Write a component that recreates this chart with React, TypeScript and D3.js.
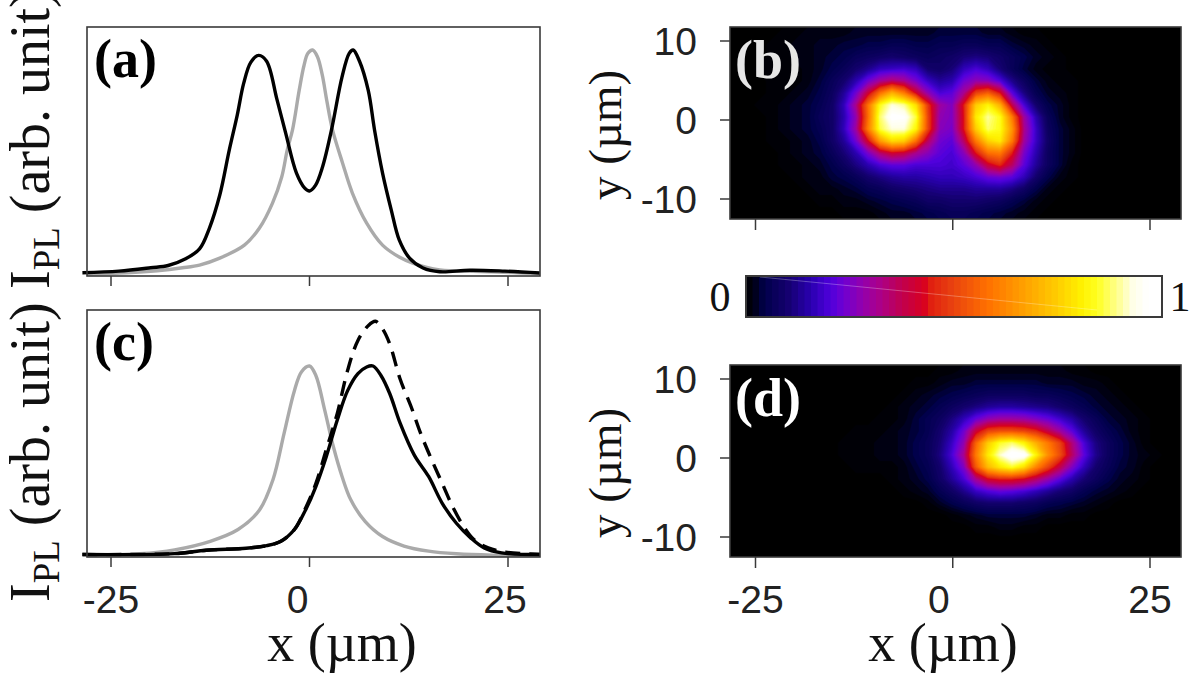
import React from "react";
import * as d3 from "d3";

const W = 1198, H = 676;

// curves: [x µm, normalised intensity]
const aBlack: [number, number][] = [[-28.6,.008],[-24,.015],[-20,.03],[-17.8,.04],[-15.6,.07],[-13.85,.114],[-12.6,.207],[-11.3,.354],[-10.1,.555],[-9.1,.71],[-8.3,.85],[-7.4,.945],[-6.4,.976],[-5.4,.95],[-4.1,.78],[-3,.63],[-1.64,.452],[-.6,.385],[0,.372],[.75,.397],[1.64,.479],[2.77,.644],[4.1,.88],[5,.985],[5.5,1],[6.3,.95],[7.4,.82],[8.19,.644],[9.2,.452],[10.3,.287],[11.3,.154],[12.6,.073],[14.3,.029],[16.4,.012],[20.2,.019],[24.6,.015],[29,.007]];
const aGray: [number, number][] = [[-28,.002],[-23,.008],[-19.2,.017],[-16,.03],[-13.85,.042],[-11.3,.073],[-8.2,.131],[-6.3,.207],[-4.66,.318],[-3.5,.434],[-2.8,.555],[-2.14,.644],[-1.3,.82],[-.7,.93],[-.2,.985],[.4,1],[1,.97],[1.6,.89],[2.2,.77],[2.9,.644],[4.16,.497],[5.4,.363],[7.2,.229],[9.2,.131],[11.3,.078],[13,.051],[16.4,.02],[18.5,.017],[22.9,.012],[29,.003]];
const cGray: [number, number][] = [[-28,.001],[-21.4,.009],[-17,.03],[-12.5,.075],[-9,.137],[-6.3,.24],[-4.6,.4],[-3.2,.645],[-1.9,.87],[-1,.97],[0,1],[.8,.95],[1.9,.77],[3,.575],[4.1,.417],[5.2,.294],[7,.18],[9.2,.1],[11.9,.05],[15,.023],[18.5,.009],[23,.002],[29,.001]];
const cBlack: [number, number][] = [[-28.6,.005],[-17,.01],[-13,.028],[-8,.038],[-5.4,.052],[-3.6,.075],[-1.9,.137],[-.5,.24],[.8,.364],[2.1,.52],[3.5,.715],[4.8,.87],[6.1,.96],[7.2,.995],[8,1],[9,.95],[10.1,.855],[11.4,.7],[13.2,.53],[15,.417],[16.7,.277],[18.5,.17],[20.3,.093],[22,.04],[24.2,.014],[29,.005]];
const cDash: [number, number][] = [[-28.6,.005],[-17,.01],[-13,.028],[-8,.038],[-5.4,.052],[-3.6,.075],[-1.9,.137],[-.5,.25],[.8,.38],[2.1,.557],[3.5,.75],[4.8,.977],[6.1,1.135],[7.4,1.213],[8.3,1.236],[9.2,1.196],[10.1,1.117],[11.4,.933],[12.8,.785],[14,.644],[15.4,.504],[16.7,.382],[18,.26],[19.4,.154],[20.7,.084],[22.5,.04],[24.7,.018],[29,.005]];

const xTicks = [-25, 0, 25];
const xTickLabels = ["-25", "0", "25"];
const yTicks = [10, 0, -10];
const yTickLabels = ["10", "0", "-10"];

// colormap stops
const cmStops = [0, .02, .043, .1, .156, .204, .236, .276, .315, .373, .428, .445, .493, .58, .66, .74, .805, .844, .9, .93, .965, 1];
const cmColors = ["#000000", "#000018", "#00004a", "#14006e", "#2a00b0", "#5000dc", "#7000d0", "#9000b0", "#a80090", "#c00050", "#d80020", "#e02010", "#e84010", "#ff7000", "#ff9c00", "#ffc800", "#fff000", "#ffff20", "#ffffa0", "#ffffe8", "#ffffff", "#ffffff"];

// intensity grids (percent); 12-unit cells, missing right-hand columns are 0
const heatB: number[][] = [
[0,0,0,0,1,1,2,2,2,2,3,3,3,3,3,3,3,4,4,4,4,3,3,2,1,1,0,0,0,0],
[0,0,0,1,1,2,2,3,3,4,4,5,5,6,6,5,5,6,6,7,7,6,6,4,3,2,1,0,0,0],
[0,0,0,1,1,2,2,3,4,5,7,8,9,10,9,8,7,8,9,11,12,11,9,7,5,3,2,1,0,0],
[0,0,1,1,1,1,2,3,5,7,10,13,17,18,19,17,10,9,11,17,20,17,11,7,4,2,1,1,0,0],
[0,0,0,1,1,1,2,4,7,10,16,24,31,35,32,25,18,14,16,24,28,27,21,13,8,4,2,1,1,0],
[0,0,0,1,1,2,3,5,8,14,24,40,58,70,60,42,28,20,22,32,50,55,44,22,12,6,3,2,1,0],
[0,0,1,1,2,3,4,6,9,17,32,58,84,93,90,78,48,30,26,45,75,82,70,38,20,10,5,3,1,0],
[0,0,0,1,2,3,4,7,9,16,28,57,88,98,97,86,50,28,26,44,80,90,84,60,30,16,7,3,1,0],
[0,0,0,1,2,3,4,6,9,17,30,60,86,93,93,82,50,27,25,44,75,88,84,65,32,18,8,4,2,0],
[0,0,0,1,1,2,3,5,9,14,24,42,66,77,75,58,36,24,22,36,60,76,80,60,30,18,9,4,2,0],
[0,0,0,0,1,2,3,4,7,11,16,25,35,41,39,32,27,22,20,27,44,58,60,45,25,16,8,4,2,0],
[0,0,0,0,1,1,2,3,5,8,12,16,20,22,22,20,20,20,19,22,28,40,46,36,22,14,8,4,1,0],
[0,0,0,0,0,1,2,2,4,5,7,10,12,14,15,15,16,17,17,18,20,23,24,22,17,10,5,2,1,0],
[0,0,0,0,0,0,1,2,2,3,4,6,7,9,10,11,12,13,13,13,14,14,14,12,9,5,2,1,0,0],
[0,0,0,0,0,0,0,1,1,2,2,3,4,5,6,7,9,9,10,10,10,9,8,6,4,2,1,0,0,0],
[0,0,0,0,0,0,0,0,0,1,1,1,2,3,3,4,5,6,7,7,6,5,4,3,2,1,0,0,0,0],
];
const heatD: number[][] = [
[0,0,0,0,0,0,0,0,0,0,0,0,0,0,0,0,0,1,1,2,2,2,2,2,2,2,2,2,1,1,0,0,0,0,0,0],
[0,0,0,0,0,0,0,0,0,0,0,0,0,0,0,1,1,2,3,3,4,4,4,4,4,4,3,3,3,2,2,1,0,0,0,0],
[0,0,0,0,0,0,0,0,0,0,0,0,0,0,1,2,3,4,5,6,7,8,8,8,8,7,7,6,5,4,3,2,1,0,0,0],
[0,0,0,0,0,0,0,0,0,0,0,0,0,1,2,3,4,6,8,10,12,14,15,15,14,13,12,10,8,6,4,3,2,1,0,0],
[0,0,0,0,0,0,0,0,0,0,0,0,1,1,2,4,6,8,12,17,23,28,30,30,29,26,23,19,15,10,7,4,3,2,1,0],
[0,0,0,0,0,0,0,0,0,0,1,1,1,2,3,4,6,10,15,24,40,50,52,52,50,46,38,30,22,14,9,6,4,2,1,0],
[0,0,0,0,0,0,0,0,0,1,1,1,2,2,3,5,7,11,18,28,56,75,85,88,82,70,60,50,34,20,12,8,5,3,1,0],
[0,0,0,0,0,0,0,0,0,1,1,1,2,2,3,5,7,12,20,32,60,80,92,100,98,82,64,52,36,22,13,8,5,3,2,1],
[0,0,0,0,0,0,0,0,0,0,1,1,1,1,2,4,6,10,17,26,54,72,80,85,78,62,50,38,26,17,10,7,4,3,1,0],
[0,0,0,0,0,0,0,0,0,0,0,0,0,1,2,3,5,9,14,20,32,42,45,45,42,36,29,22,16,11,8,5,3,2,1,0],
[0,0,0,0,0,0,0,0,0,0,0,0,0,0,1,2,3,6,9,13,18,21,23,22,20,17,14,11,9,6,4,3,2,1,0,0],
[0,0,0,0,0,0,0,0,0,0,0,0,0,0,0,0,1,3,5,7,9,10,10,10,9,8,6,5,4,3,2,1,0,0,0,0],
[0,0,0,0,0,0,0,0,0,0,0,0,0,0,0,0,0,0,1,2,3,4,4,4,4,3,2,2,1,1,0,0,0,0,0,0],
[0,0,0,0,0,0,0,0,0,0,0,0,0,0,0,0,0,0,0,0,1,1,2,2,1,1,0,0,0,0,0,0,0,0,0,0],
[0,0,0,0,0,0,0,0,0,0,0,0,0,0,0,0,0,0,0,0,0,0,0,0,0,0,0,0,0,0,0,0,0,0,0,0],
[0,0,0,0,0,0,0,0,0,0,0,0,0,0,0,0,0,0,0,0,0,0,0,0,0,0,0,0,0,0,0,0,0,0,0,0],
];

const sans = "'Liberation Sans', Arial, sans-serif";
const serif = "'Liberation Serif', 'Times New Roman', serif";
const inkCol = "#222";
const frameCol = "#3a3a3a";

const cmap = d3.scaleLinear<string>().domain(cmStops).range(cmColors).clamp(true);
const xPlot = d3.scaleLinear().domain([-25, 25]).range([111, 508]);
const xHeat = d3.scaleLinear().domain([-25, 25]).range([755.5, 1150]);

function Curve({ data, y, color, dash, w = 3.4 }: { data: [number, number][]; y: d3.ScaleLinear<number, number>; color: string; dash?: string; w?: number }) {
  const gen = d3.line<[number, number]>().x(d => xPlot(d[0])).y(d => y(d[1])).curve(d3.curveCatmullRom.alpha(0.5));
  return <path d={gen(data) || ""} fill="none" stroke={color} strokeWidth={w} strokeDasharray={dash} strokeLinejoin="round" />;
}

function LinePanel({ top, bottom, label, children, showLabels, yLabelY }: { top: number; bottom: number; label: string; children: React.ReactNode; showLabels: boolean; yLabelY: number }) {
  const left = 87, right = 540;
  const id = "clip" + label;
  return (
    <g>
      <clipPath id={id}><rect x={left - 1} y={top} width={right - left + 2} height={bottom - top + 2} /></clipPath>
      <g clipPath={`url(#${id})`}>{children}</g>
      <rect x={left} y={top} width={right - left} height={bottom - top} fill="none" stroke={frameCol} strokeWidth={1.6} />
      {xTicks.map((t, i) => (
        <g key={t}>
          <line x1={xPlot(t)} x2={xPlot(t)} y1={bottom} y2={bottom + 10} stroke={frameCol} strokeWidth={1.5} />
          {showLabels && <text x={xPlot(t) + (t === 0 ? -12 : t === 25 ? -3 : 0)} y={613} textAnchor="middle" fontFamily={sans} fontSize={39} fill={inkCol}>{xTickLabels[i]}</text>}
        </g>
      ))}
      <text x={94} y={top + 50} fontFamily={serif} fontWeight="bold" fontSize={54} fill="#000">{label}</text>
      <text transform={`translate(49,${yLabelY}) rotate(-90)`} fontFamily={serif} fontSize={56} fill="#111">
        I<tspan fontSize={37} dy={10}>PL</tspan><tspan dy={-10}> (arb. unit)</tspan>
      </text>
    </g>
  );
}

function HeatPanel({ top, matrix, label, labelColor, showLabels }: { top: number; matrix: number[][]; label: string; labelColor: string; showLabels: boolean }) {
  const left = 730, right = 1181, bottom = top + 192, cell = 12;
  const cols = 38, rows = matrix.length;
  const flat: number[] = [];
  matrix.forEach(r => { for (let i = 0; i < cols; i++) flat.push(r[i] ?? 0); });
  const thresholds = d3.range(0.5, 100, 1);
  const bands = d3.contours().size([cols, rows]).thresholds(thresholds)(flat);
  const gx = d3.scaleLinear().domain([0, cols]).range([left, left + cols * cell]);
  const gy = d3.scaleLinear().domain([0, rows]).range([top, top + rows * cell]);
  const proj = d3.geoTransform({ point(x, y) { (this as any).stream.point(gx(x), gy(y)); } });
  const path = d3.geoPath(proj);
  const yS = d3.scaleLinear().domain([0, 10]).range([top + 93, top + 14]);
  const id = "hclip" + top;
  return (
    <g>
      <clipPath id={id}><rect x={left} y={top} width={right - left} height={bottom - top} /></clipPath>
      <rect x={left} y={top} width={right - left} height={bottom - top} fill="#000" />
      <g clipPath={`url(#${id})`}>
        {bands.map(b => <path key={b.value} d={path(b as any) || ""} fill={cmap(b.value / 100)} stroke={cmap(b.value / 100)} strokeWidth={0.4} />)}
      </g>
      <rect x={left} y={top} width={right - left} height={bottom - top} fill="none" stroke={frameCol} strokeWidth={1.6} />
      {xTicks.map((t, i) => (
        <g key={t}>
          <line x1={xHeat(t)} x2={xHeat(t)} y1={bottom} y2={bottom + 11} stroke={frameCol} strokeWidth={1.5} />
          {showLabels && <text x={xHeat(t) + (t === 0 ? -14 : 0)} y={613} textAnchor="middle" fontFamily={sans} fontSize={39} fill={inkCol}>{xTickLabels[i]}</text>}
        </g>
      ))}
      {yTicks.map((t, i) => (
        <g key={t}>
          <line x1={left - 10} x2={left} y1={yS(t)} y2={yS(t)} stroke={frameCol} strokeWidth={1.5} />
          <text x={697} y={yS(t) + 14} textAnchor="end" fontFamily={sans} fontSize={39} fill={inkCol}>{yTickLabels[i]}</text>
        </g>
      ))}
      <text x={735} y={top + 51} fontFamily={serif} fontWeight="bold" fontSize={54} fill={labelColor}>{label}</text>
      <text transform={`translate(621,${top + 173}) rotate(-90)`} fontFamily={serif} fontSize={47} fill="#111">y (µm)</text>
    </g>
  );
}

function ColorBar() {
  const left = 746, right = 1162, top = 276, bottom = 317;
  const steps = d3.range(0, 64);
  const s = d3.scaleLinear().domain([0, 64]).range([left, right]);
  return (
    <g>
      {steps.map(i => <rect key={i} x={s(i)} y={top} width={s(i + 1) - s(i) + 0.5} height={bottom - top} fill={cmap((i + 0.5) / 64)} />)}
      <line x1={760} y1={277} x2={1097} y2={310} stroke="#fff" strokeOpacity={0.28} strokeWidth={1} />
      <rect x={left} y={top} width={right - left} height={bottom - top} fill="none" stroke={frameCol} strokeWidth={2} />
      <text x={720} y={311} textAnchor="middle" fontFamily={serif} fontSize={42} fill="#111">0</text>
      <text x={1180} y={311} textAnchor="middle" fontFamily={serif} fontSize={42} fill="#111">1</text>
    </g>
  );
}

export default function App() {
  const yA = d3.scaleLinear().domain([0, 1]).range([274.5, 50]);
  const yC = d3.scaleLinear().domain([0, 1]).range([555.5, 366]);
  return (
    <svg width={W} height={H} viewBox={`0 0 ${W} ${H}`} style={{ position: "absolute", left: 0, top: 0, background: "#fff" }}>
      <LinePanel top={27} bottom={276} label="(a)" showLabels={false} yLabelY={289}>
        <Curve data={aGray} y={yA} color="#aaaaaa" />
        <Curve data={aBlack} y={yA} color="#000" />
      </LinePanel>
      <LinePanel top={310} bottom={557} label="(c)" showLabels={true} yLabelY={602}>
        <Curve data={cGray} y={yC} color="#aaaaaa" />
        <Curve data={cDash} y={yC} color="#000" dash="15 9" />
        <Curve data={cBlack} y={yC} color="#000" />
      </LinePanel>
      <HeatPanel top={27} matrix={heatB} label="(b)" labelColor="#e6e6e6" showLabels={false} />
      <HeatPanel top={365} matrix={heatD} label="(d)" labelColor="#fff" showLabels={true} />
      <ColorBar />
      <text x={342} y={661} textAnchor="middle" fontFamily={serif} fontSize={54} fill="#111">x (µm)</text>
      <text x={943} y={661} textAnchor="middle" fontFamily={serif} fontSize={54} fill="#111">x (µm)</text>
    </svg>
  );
}
